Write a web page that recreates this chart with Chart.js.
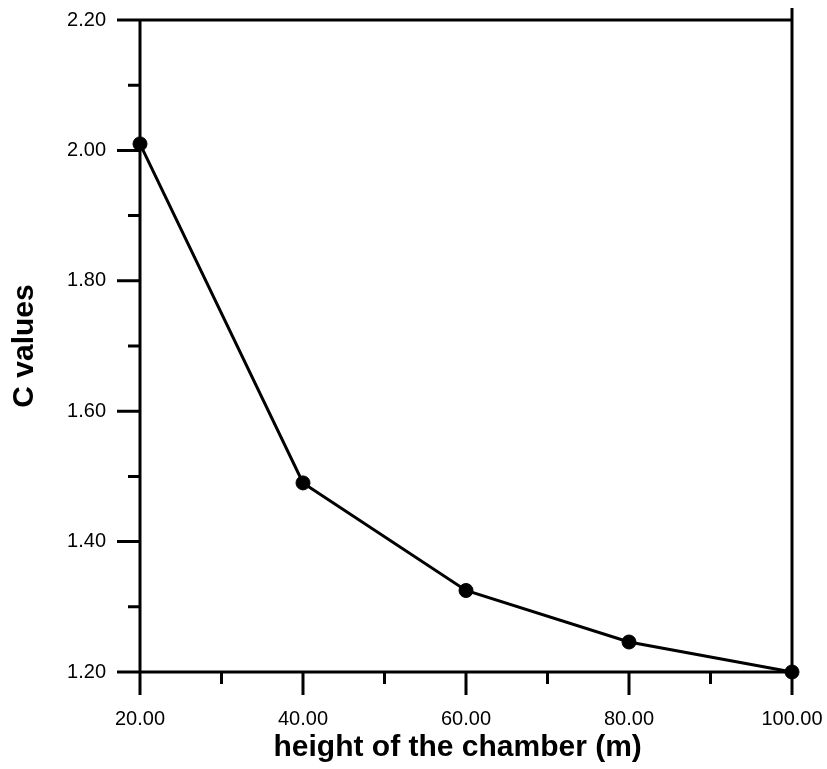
<!DOCTYPE html>
<html>
<head>
<meta charset="utf-8">
<script src="https://cdn.jsdelivr.net/npm/chart.js@4.4.0/dist/chart.umd.min.js"></script>
<style>
  html, body { margin: 0; padding: 0; background: #fff; }
  #wrap { width: 827px; height: 769px; }
</style>
</head>
<body>
<div id="wrap"><canvas id="chart"></canvas></div>
<script>
// chamber height (m) vs C value
const heights = [20, 40, 60, 80, 100];
const cValues = [2.01, 1.49, 1.325, 1.246, 1.20];

const xMajorTicks = [20, 40, 60, 80, 100];
const xMinorTicks = [30, 50, 70, 90];
const yMajorTicks = [1.2, 1.4, 1.6, 1.8, 2.0, 2.2];
const yMinorTicks = [1.3, 1.5, 1.7, 1.9, 2.1];

const FONT = '"Liberation Sans", Arial, sans-serif';

// axes frame + tick marks, placed with the chart's own scales
const framePlugin = {
  id: 'frame',
  beforeDatasetsDraw(chart) {
    const { ctx, chartArea: a, scales: { x, y } } = chart;
    ctx.save();
    ctx.strokeStyle = '#000';
    ctx.lineWidth = 3;
    ctx.lineCap = 'butt';
    ctx.beginPath();
    // top line (2.20)
    ctx.moveTo(a.left - 23, a.top); ctx.lineTo(a.right, a.top);
    // bottom line
    ctx.moveTo(a.left - 23, a.bottom); ctx.lineTo(a.right, a.bottom);
    // left axis
    ctx.moveTo(a.left, a.top); ctx.lineTo(a.left, a.bottom + 23);
    // right axis
    ctx.moveTo(a.right, a.top - 12); ctx.lineTo(a.right, a.bottom + 23);
    xMajorTicks.forEach(v => {
      const px = x.getPixelForValue(v);
      ctx.moveTo(px, a.bottom); ctx.lineTo(px, a.bottom + 23);
    });
    xMinorTicks.forEach(v => {
      const px = x.getPixelForValue(v);
      ctx.moveTo(px, a.bottom); ctx.lineTo(px, a.bottom + 12);
    });
    yMajorTicks.forEach(v => {
      const py = y.getPixelForValue(v);
      ctx.moveTo(a.left - 23, py); ctx.lineTo(a.left, py);
    });
    yMinorTicks.forEach(v => {
      const py = y.getPixelForValue(v);
      ctx.moveTo(a.left - 12, py); ctx.lineTo(a.left, py);
    });
    ctx.stroke();
    ctx.restore();
  }
};

new Chart(document.getElementById('chart'), {
  type: 'line',
  data: {
    datasets: [{
      data: heights.map((h, i) => ({ x: h, y: cValues[i] })),
      borderColor: '#000',
      backgroundColor: '#000',
      borderWidth: 3,
      pointRadius: 7,
      pointHoverRadius: 7,
      pointBorderWidth: 1,
      tension: 0,
      clip: false
    }]
  },
  options: {
    responsive: true,
    maintainAspectRatio: false,
    animation: false,
    layout: { padding: { top: 20, right: 35, left: 0, bottom: 0 } },
    plugins: { legend: { display: false }, tooltip: { enabled: false } },
    scales: {
      x: {
        type: 'linear',
        min: 20,
        max: 100,
        afterBuildTicks: s => { s.ticks = xMajorTicks.map(v => ({ value: v })); },
        afterFit: s => { s.height = 97; s.paddingLeft = 0; s.paddingRight = 0; },
        grid: { drawOnChartArea: false, drawTicks: true, tickLength: 22, tickColor: 'rgba(0,0,0,0)' },
        border: { display: false },
        ticks: {
          color: '#000',
          font: { family: FONT, size: 20 },
          padding: 13,
          maxRotation: 0,
          callback: v => Number(v).toFixed(2)
        },
        title: {
          display: true,
          text: 'height of the chamber (m)  ',
          color: '#000',
          font: { family: FONT, size: 30, weight: 'bold' },
          padding: { top: 0, bottom: 3 }
        }
      },
      y: {
        min: 1.2,
        max: 2.2,
        afterBuildTicks: s => { s.ticks = yMajorTicks.map(v => ({ value: v })); },
        afterFit: s => { s.width = 140; s.paddingTop = 0; s.paddingBottom = 0; },
        grid: { drawOnChartArea: false, drawTicks: true, tickLength: 23, tickColor: 'rgba(0,0,0,0)' },
        border: { display: false },
        ticks: {
          color: '#000',
          font: { family: FONT, size: 20 },
          padding: 11,
          callback: v => Number(v).toFixed(2)
        },
        title: {
          display: true,
          text: 'C values',
          color: '#000',
          font: { family: FONT, size: 30, weight: 'bold' },
          padding: { top: 7, bottom: 0 }
        }
      }
    }
  },
  plugins: [framePlugin]
});
</script>
</body>
</html>
